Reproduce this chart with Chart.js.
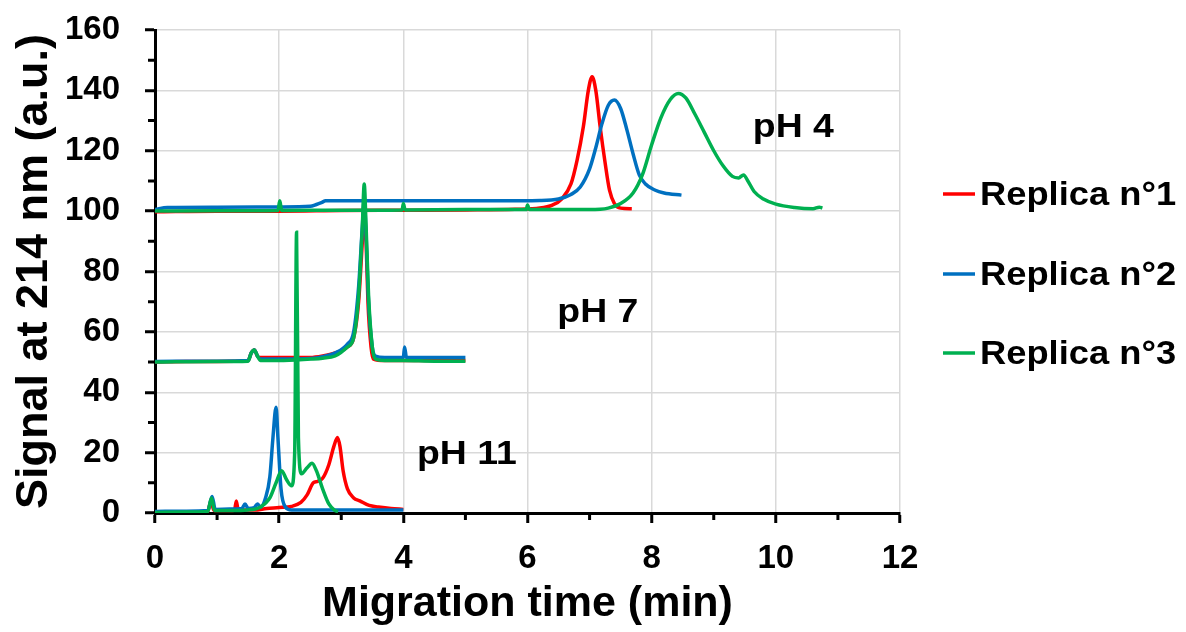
<!DOCTYPE html>
<html><head><meta charset="utf-8">
<script src="https://cdn.jsdelivr.net/npm/chart.js@4/dist/chart.umd.min.js"></script>
<style>html,body{margin:0;padding:0;background:#fff}#wrap{width:1186px;height:632px}</style>
</head><body><div id="wrap"><canvas id="c" width="1186" height="632"></canvas></div>
<script>
// ---- data: [migration time (min), signal (a.u.)] ----
const red_pH11 = [[0,0.2],[0.5,0.3],[0.85,0.5],[0.9,4],[0.95,0.8],[1.1,0.8],[1.28,0.9],[1.31,4],[1.34,1],[1.6,1],[1.8,1.5],[2.0,1.8],[2.2,2.2],[2.35,3.5],[2.45,6],[2.55,10],[2.62,10.5],[2.7,11.5],[2.8,16],[2.88,22],[2.94,25],[2.98,22],[3.03,14],[3.1,8],[3.2,5],[3.3,4],[3.45,2.5],[3.6,2],[3.8,1.5],[4.0,1.2]];
const blue_pH11 = [[0,0.5],[0.5,0.6],[0.85,0.8],[0.92,5.5],[0.97,1.2],[1.2,1.3],[1.4,1.5],[1.45,3],[1.5,1.5],[1.6,1.8],[1.65,3],[1.7,2],[1.78,5],[1.85,12],[1.9,25],[1.95,35],[1.98,25],[2.03,8],[2.1,2],[2.2,1],[2.5,1],[3.0,1],[3.5,1],[4.0,1]];
const green_pH11 = [[0,0.2],[0.5,0.3],[0.85,0.5],[0.91,5],[0.96,0.8],[1.2,0.8],[1.5,1],[1.7,2],[1.85,5],[1.95,10],[2.04,14],[2.12,11],[2.2,9],[2.25,20],[2.28,93],[2.31,25],[2.36,13],[2.45,15],[2.53,16.5],[2.6,14],[2.7,8],[2.8,3],[2.9,0.8],[2.95,0.5]];

const red_pH7 = [[0,50],[0.5,50.2],[1.0,50.2],[1.5,50.5],[1.55,53],[1.6,54],[1.65,52],[1.7,51.5],[2.0,51.5],[2.5,51.5],[2.7,52],[2.9,53],[3.1,55],[3.2,58],[3.28,70],[3.34,90],[3.37,100],[3.4,90],[3.43,70],[3.48,55],[3.52,51],[3.7,50.5],[4.0,50.5],[4.5,50.5],[5.0,50.5]];
const blue_pH7 = [[0,50.2],[1.0,50.3],[1.5,50.5],[1.55,53],[1.6,54],[1.65,52],[1.7,51],[2.0,51],[2.5,51.2],[2.7,51.8],[2.9,53],[3.1,56],[3.2,60],[3.28,75],[3.34,95],[3.37,104],[3.4,92],[3.44,70],[3.5,55],[3.55,52],[3.7,51.5],[4.0,51.5],[4.02,55],[4.05,51.5],[4.5,51.5],[5.0,51.5]];
const green_pH7 = [[0,50],[1.0,50.2],[1.5,50.3],[1.55,53],[1.6,54],[1.65,52],[1.7,50.5],[2.0,50.5],[2.5,51],[2.7,51.3],[2.9,52],[3.1,55],[3.2,58],[3.28,72],[3.34,95],[3.37,109],[3.4,95],[3.44,72],[3.5,55],[3.55,51],[3.7,50.5],[4.0,50.5],[4.5,50.3],[5.0,50.3]];

const red_pH4 = [[0,99.8],[1,100],[2,100],[3,100.2],[4,100.3],[5,100.4],[5.8,100.6],[6.2,101],[6.4,102],[6.55,104],[6.7,109],[6.8,117],[6.9,128],[6.98,140],[7.04,144.5],[7.1,140],[7.17,128],[7.25,116],[7.32,107],[7.4,102.5],[7.5,101],[7.68,100.8]];
const blue_pH4 = [[0,100.5],[0.2,101.2],[1,101.3],[2,101.4],[2.5,101.6],[2.6,102.2],[2.68,102.8],[2.75,103.4],[3.5,103.4],[4.5,103.4],[5.5,103.4],[6.2,103.5],[6.5,104],[6.7,105.5],[6.85,108],[7.0,114],[7.1,121],[7.2,129],[7.3,135],[7.4,136.8],[7.5,134],[7.6,127],[7.7,119],[7.8,112],[7.9,109],[8.05,107],[8.2,106],[8.48,105.3]];
const green_pH4 = [[0,100],[1,100.1],[1.98,100.2],[2.01,103.4],[2.04,100.2],[3,100.3],[3.98,100.4],[4.0,102.5],[4.03,100.4],[5,100.5],[5.98,100.5],[6.0,102],[6.03,100.5],[7,100.5],[7.3,101],[7.5,102.5],[7.7,106],[7.85,112],[8.0,122],[8.15,131],[8.3,137],[8.43,139],[8.55,137.5],[8.7,132],[8.85,126],[9.0,120],[9.15,115],[9.3,111.5],[9.4,111],[9.48,112],[9.55,110],[9.65,106.5],[9.8,104],[10.0,102.3],[10.3,101.2],[10.6,100.8],[10.7,101.3],[10.75,101]];

const seriesNames = ['Replica n°1','Replica n°2','Replica n°3'];
const seriesColors = ['#ff0000','#0070c0','#00b050'];
const xTicks = [0,2,4,6,8,10,12];
const yTicks = [0,20,40,60,80,100,120,140,160];
const phLabels = ['pH 4','pH 7','pH 11'];
const phLabelAnchors = [[9.63,124.5],[6.48,63.3],[4.22,16.2]];

const FONT = "Arial, 'Liberation Sans', sans-serif";
const toXY = a => a.map(p => ({x:p[0], y:p[1]}));
const traces = [
  [red_pH11,0],[red_pH7,0],[red_pH4,0],
  [blue_pH11,1],[blue_pH7,1],[blue_pH4,1],
  [green_pH11,2],[green_pH7,2],[green_pH4,2]
];
const datasets = traces.map(([d,s]) => ({
  label: seriesNames[s],
  data: toXY(d),
  borderColor: seriesColors[s],
  backgroundColor: seriesColors[s],
  borderWidth: 3.5,
  pointRadius: 0,
  cubicInterpolationMode: 'monotone',
  fill: false,
  order: 3 - s
}));

function wideText(ctx, txt, x, y, sx) {
  ctx.save(); ctx.translate(x, y); ctx.scale(sx, 1); ctx.fillText(txt, 0, 0); ctx.restore();
}

const extras = {
  id: 'extras',
  afterDraw(chart) {
    const ctx = chart.ctx, xs = chart.scales.x, ys = chart.scales.y;
    ctx.save();
    // minor ticks
    ctx.strokeStyle = '#000'; ctx.lineWidth = 3;
    ctx.beginPath();
    for (let t = 1; t < 12; t += 2) {
      const px = xs.getPixelForValue(t);
      ctx.moveTo(px, ys.bottom); ctx.lineTo(px, ys.bottom + 7);
    }
    for (let v = 10; v < 160; v += 20) {
      const py = ys.getPixelForValue(v);
      ctx.moveTo(xs.left - 7, py); ctx.lineTo(xs.left, py);
    }
    ctx.stroke();
    // pH annotations
    ctx.fillStyle = '#000';
    ctx.font = 'bold 34px ' + FONT;
    ctx.textAlign = 'left'; ctx.textBaseline = 'alphabetic';
    phLabels.forEach((txt, i) => {
      wideText(ctx, txt, xs.getPixelForValue(phLabelAnchors[i][0]), ys.getPixelForValue(phLabelAnchors[i][1]), 1.1);
    });
    // legend
    ctx.font = 'bold 33px ' + FONT;
    const legTop = [194, 274, 353];
    seriesNames.forEach((name, i) => {
      ctx.strokeStyle = seriesColors[i]; ctx.lineWidth = 3.5;
      ctx.beginPath(); ctx.moveTo(943, legTop[i]); ctx.lineTo(975, legTop[i]); ctx.stroke();
      ctx.fillStyle = '#000';
      wideText(ctx, name, 980, legTop[i] + 11, 1.1);
    });
    ctx.restore();
  }
};

const axisCommon = {
  type: 'linear',
  grid: { color: '#d9d9d9', lineWidth: 1.5, tickColor: '#000', tickLength: 10, tickWidth: 3 },
  border: { color: '#000', width: 3 },
};

new Chart(document.getElementById('c'), {
  type: 'line',
  data: { datasets },
  options: {
    responsive: false,
    animation: false,
    devicePixelRatio: 1,
    layout: { padding: { top: 30, right: 286, bottom: 0, left: 0 } },
    plugins: { legend: { display: false }, tooltip: { enabled: false } },
    scales: {
      x: Object.assign({}, axisCommon, {
        min: 0, max: 12,
        afterBuildTicks: s => { s.ticks = xTicks.map(v => ({value: v})); },
        ticks: { color: '#000', font: { family: FONT, size: 33, weight: 'bold' }, padding: 16, maxRotation: 0 },
        title: { display: true, text: 'Migration time (min)', color: '#000', font: { family: FONT, size: 43, weight: 'bold', lineHeight: 1.2 }, padding: { top: 0, bottom: 2 } },
        afterFit: s => { s.height = 119; s.paddingLeft = 0; s.paddingRight = 0; }
      }),
      y: Object.assign({}, axisCommon, {
        min: 0, max: 160,
        afterBuildTicks: s => { s.ticks = yTicks.map(v => ({value: v})); },
        ticks: { color: '#000', font: { family: FONT, size: 33, weight: 'bold' }, padding: 25 },
        title: { display: true, text: 'Signal at 214 nm (a.u.)', color: '#000', font: { family: FONT, size: 45, weight: 'bold', lineHeight: 1.2 }, padding: { top: 8, bottom: 0 } },
        afterFit: s => { s.width = 155; s.paddingTop = 0; s.paddingBottom = 0; }
      })
    }
  },
  plugins: [extras]
});
</script>
</body></html>
